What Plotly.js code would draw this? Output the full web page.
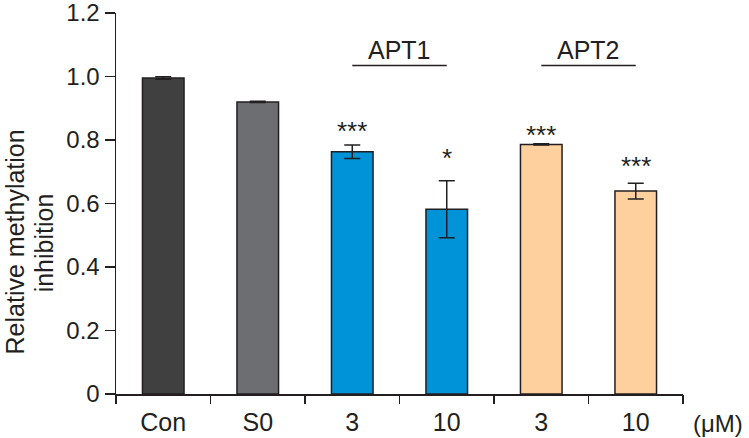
<!DOCTYPE html>
<html>
<head>
<meta charset="utf-8">
<script src="https://cdn.plot.ly/plotly-3.0.1.min.js"></script>
<style>html,body{margin:0;padding:0;background:#fff;}#chart{width:749px;height:438px;}</style>
</head>
<body>
<div id="chart"></div>
<script>
// ---- data ----
var tickLabels = ["Con", "S0", "3", "10", "3", "10"];
var values     = [0.995, 0.920, 0.763, 0.582, 0.786, 0.639];
var errors     = [0.004, 0.002, 0.021, 0.090, 0.002, 0.025];
var barColors  = ["#404040", "#6d6e71", "#0093d8", "#fdd09e"];
var colorIndex = [0, 1, 2, 2, 3, 3];
var sigLabels  = ["", "", "***", "*", "***", "***"];
var sigY       = [0, 0, 0.828, 0.742, 0.816, 0.718];
var groupNames = ["APT1", "APT2"];
var groupStart = [2, 4];
var groupEnd   = [3, 5];
var unitLabel  = "(μM)";
var yTickVals  = [0, 0.2, 0.4, 0.6, 0.8, 1.0, 1.2];
var yTickText  = ["0", "0.2", "0.4", "0.6", "0.8", "1.0", "1.2"];

var ink = "#231f20";
var font = "Liberation Sans, Arial, Helvetica, sans-serif";
var idx = tickLabels.map(function (_, i) { return i; });
var boundaries = idx.map(function (i) { return i - 0.5; }).concat([tickLabels.length - 0.5]);

var trace = {
  type: "bar",
  x: idx,
  y: values,
  width: 0.44,
  marker: {
    color: colorIndex.map(function (c) { return barColors[c]; }),
    line: { color: ink, width: 1.5 }
  },
  error_y: { type: "data", array: errors, visible: true, color: ink, thickness: 1.5, width: 8 },
  hoverinfo: "skip",
  showlegend: false
};

// invisible trace to activate boundary tick axis
var tickTrace = { type: "scatter", x: [boundaries[0]], y: [0], xaxis: "x2", yaxis: "y",
  mode: "markers", marker: { opacity: 0 }, showlegend: false, hoverinfo: "skip" };

var annotations = [];
sigLabels.forEach(function (s, i) {
  if (!s) return;
  annotations.push({ x: i, y: sigY[i], xref: "x", yref: "y", text: s, showarrow: false,
    xanchor: "center", yanchor: "middle", font: { family: font, size: 26, color: ink } });
});
var shapes = [];
groupNames.forEach(function (g, i) {
  annotations.push({ x: (groupStart[i] + groupEnd[i]) / 2, y: 1.084, xref: "x", yref: "y", text: g,
    showarrow: false, xanchor: "center", yanchor: "middle", font: { family: font, size: 25, color: ink } });
  shapes.push({ type: "line", xref: "x", yref: "y", x0: groupStart[i], x1: groupEnd[i],
    y0: 1.035, y1: 1.035, line: { color: ink, width: 1.5 } });
});
annotations.push({ x: 1.062, y: -0.077, xref: "paper", yref: "paper", text: unitLabel, showarrow: false,
  xanchor: "center", yanchor: "middle", font: { family: font, size: 24, color: ink } });
annotations.push({ x: -0.178, y: 0.398, xref: "paper", yref: "paper", text: "Relative methylation",
  textangle: -90, showarrow: false, xanchor: "center", yanchor: "middle", font: { family: font, size: 25, color: ink } });
annotations.push({ x: -0.127, y: 0.398, xref: "paper", yref: "paper", text: "inhibition",
  textangle: -90, showarrow: false, xanchor: "center", yanchor: "middle", font: { family: font, size: 25, color: ink } });

var layout = {
  width: 749, height: 438,
  margin: { l: 116, r: 66, t: 13, b: 44, pad: 0 },
  paper_bgcolor: "#fff", plot_bgcolor: "#fff",
  showlegend: false,
  xaxis: {
    range: [-0.5, tickLabels.length - 0.5], tickmode: "array", tickvals: idx, ticktext: tickLabels,
    ticks: "", ticklabelstandoff: 5, ticklabeloverflow: "allow", showline: true, linecolor: ink, linewidth: 1.5,
    showgrid: false, zeroline: false, tickfont: { family: font, size: 25, color: ink }, fixedrange: true
  },
  xaxis2: {
    overlaying: "x", anchor: "y", side: "bottom", range: [-0.5, tickLabels.length - 0.5],
    tickmode: "array", tickvals: boundaries, ticks: "outside", ticklen: 9, tickwidth: 1.5, tickcolor: ink,
    showticklabels: false, showline: false, showgrid: false, zeroline: false, fixedrange: true
  },
  yaxis: {
    range: [0, 1.2], tickmode: "array", tickvals: yTickVals, ticktext: yTickText,
    ticks: "outside", ticklen: 10, tickwidth: 1.5, tickcolor: ink, ticklabeloverflow: "allow",
    showline: true, linecolor: ink, linewidth: 1.5, showgrid: false, zeroline: false,
    tickfont: { family: font, size: 24, color: ink }, fixedrange: true
  },
  annotations: annotations,
  shapes: shapes
};

Plotly.newPlot("chart", [trace, tickTrace], layout, { staticPlot: true, displayModeBar: false });
</script>
</body>
</html>
